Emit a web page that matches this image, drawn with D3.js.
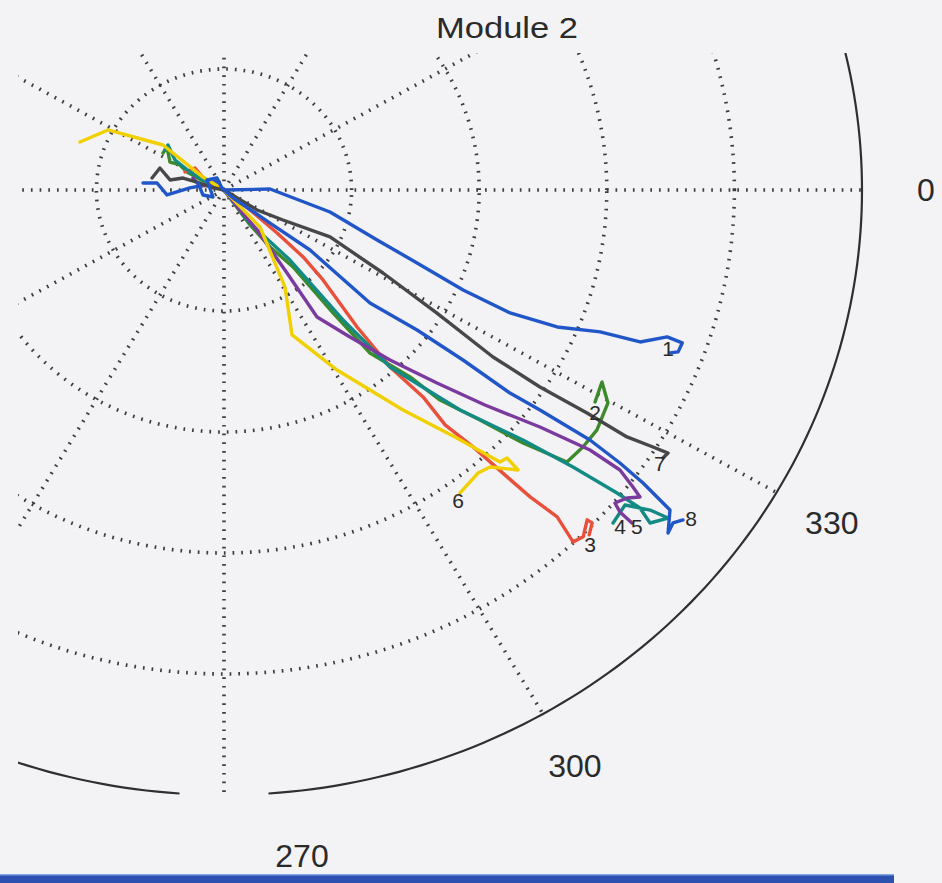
<!DOCTYPE html>
<html><head><meta charset="utf-8">
<script src="https://cdn.jsdelivr.net/npm/d3@7/dist/d3.min.js"></script>
<style>
html,body{margin:0;padding:0;background:#f3f3f5;}
svg{display:block;}
text{font-family:"Liberation Sans",Arial,Helvetica,sans-serif;fill:#2a2a2a;}
</style></head>
<body>
<svg id="chart" width="942" height="883"></svg>
<script>
// ---------------- data (east / north components, same units as the polar radius) -------------
const title = "Module 2";
const seriesNames = ["1","2","3","4","5","6","7","8"];
const seriesColors = ["#2156c8","#3d8a2c","#e9503c","#148a84","#7b3a9e","#f1d000","#474747","#2156c8"];
const angleTickValues = [0, -30, -60, -90];
const angleTickLabels = ["0", "330", "300", "270"];
const radialGridValues = [1, 2, 3, 4];
const spokeAngles = [0, 30, 60, 90, 120, 150, 180, 210, 240, 270, 300, 330];
const rMax = 5;

const s1 = [[-0.635,0.058],[-0.525,0.058],[-0.447,-0.041],[-0.267,0.017],[-0.149,0.041],[-0.071,0.074],[0,0],
  [0.361,0.008],[0.831,-0.182],[1.200,-0.413],[1.513,-0.603],[1.874,-0.826],[2.242,-1.016],[2.611,-1.132],
  [2.948,-1.173],[3.261,-1.256],[3.473,-1.214],[3.591,-1.264],[3.559,-1.338],[3.497,-1.346]];
const s2 = [[-0.478,0.306],[-0.447,0.355],[-0.423,0.231],[-0.345,0.207],[-0.290,0.149],[-0.149,0.066],[0,0],
  [0.204,-0.289],[0.361,-0.471],[0.541,-0.636],[0.854,-1.016],[1.144,-1.347],[1.458,-1.545],[1.693,-1.736],
  [2.006,-1.901],[2.343,-2.091],[2.688,-2.248],[2.813,-2.124],[2.923,-1.983],[3.009,-1.760],[2.962,-1.587],[2.908,-1.752]];
const s3 = [[-0.306,0.149],[-0.227,0.182],[-0.149,0.083],[0,0],[0.204,-0.165],[0.416,-0.355],[0.620,-0.553],
  [0.776,-0.743],[1.043,-1.132],[1.301,-1.462],[1.560,-1.710],[1.733,-1.941],[1.952,-2.123],[2.219,-2.371],
  [2.399,-2.536],[2.611,-2.701],[2.736,-2.908],[2.815,-2.866],[2.846,-2.726],[2.885,-2.751],[2.862,-2.850]];
const s4 = [[-0.462,0.331],[-0.439,0.372],[-0.384,0.248],[-0.266,0.149],[-0.125,0.058],[0,0],[0.204,-0.273],
  [0.517,-0.579],[0.933,-1.074],[1.301,-1.463],[1.850,-1.818],[2.343,-2.066],[2.735,-2.289],[3.080,-2.504],
  [3.260,-2.628],[3.339,-2.752],[3.480,-2.711],[3.339,-2.645],[3.143,-2.603],[3.049,-2.752]];
const s5 = [[-0.243,0.099],[-0.188,0.033],[-0.110,0.041],[0,0],[0.125,-0.165],[0.259,-0.331],[0.494,-0.686],
  [0.729,-1.050],[0.987,-1.215],[1.301,-1.405],[1.669,-1.595],[2.045,-1.777],[2.476,-1.959],[2.868,-2.149],
  [3.103,-2.314],[3.205,-2.455],[3.260,-2.537],[3.158,-2.545],[3.064,-2.587],[3.103,-2.661],[3.197,-2.752]];
const s6 = [[-1.129,0.397],[-0.909,0.496],[-0.478,0.372],[-0.165,0.107],[0,0],[0.282,-0.306],[0.478,-0.802],
  [0.533,-1.198],[0.886,-1.488],[1.403,-1.818],[1.810,-2.041],[2.163,-2.248],[2.218,-2.215],[2.304,-2.314],
  [2.085,-2.289],[1.991,-2.339],[1.850,-2.504]];
const s7 = [[-0.564,0.099],[-0.502,0.182],[-0.423,0.083],[-0.321,0.099],[-0.212,0.066],[-0.110,0.025],[0,0],
  [0.259,-0.165],[0.462,-0.248],[0.831,-0.388],[1.246,-0.686],[1.669,-1.017],[2.108,-1.380],[2.476,-1.628],
  [2.845,-1.843],[3.158,-2.041],[3.362,-2.124],[3.480,-2.174],[3.440,-2.215]];
const s8 = [[-0.204,0.058],[-0.165,-0.041],[-0.086,-0.058],[-0.133,0.083],[-0.055,0.099],[-0.016,0.017],
  [0.071,-0.066],[0.361,-0.273],[0.674,-0.496],[1.144,-0.934],[1.513,-1.157],[1.873,-1.405],[2.241,-1.678],
  [2.476,-1.818],[2.868,-2.066],[3.103,-2.256],[3.284,-2.421],[3.417,-2.562],[3.495,-2.645],[3.480,-2.835],
  [3.519,-2.752],[3.597,-2.727]];
const seriesData = [s1, s2, s3, s4, s5, s6, s7, s8];

// ---------------- layout / style ----------------
const W = 942, H = 883;
const cx = 224, cy = 190;
const labelOffsets = [[-2,-4],[0,11],[1,10],[7,4],[5,4],[-2,8],[-3,5],[8,-1]];

const svg = d3.select("#chart");
const xR = d3.scaleLinear().domain([0, rMax]).range([0, 638]);
const yR = d3.scaleLinear().domain([0, rMax]).range([0, 605]);
const X = u => cx + xR(u);
const Y = v => cy - yR(v);
const rad = d => d * Math.PI / 180;
const polar = (deg, r) => [X(r * Math.cos(rad(deg))), Y(r * Math.sin(rad(deg)))];

svg.append("rect").attr("width", W).attr("height", H).attr("fill", "#f3f3f5");

svg.append("clipPath").attr("id", "plotclip")
  .append("rect").attr("x", 18).attr("y", 53).attr("width", W - 18).attr("height", H - 53);

const g = svg.append("g").attr("clip-path", "url(#plotclip)");
const line = d3.line().x(d => d[0]).y(d => d[1]);

const dotted = {stroke: "#3c3c3c", "stroke-width": 3.6, "stroke-dasharray": "1.7,7", fill: "none"};
function applyStyle(sel, st) { Object.entries(st).forEach(([k, v]) => sel.attr(k, v)); return sel; }

// dotted circles
radialGridValues.forEach(r => {
  const pts = d3.range(0, 361, 1).map(a => polar(a, r));
  applyStyle(g.append("path").attr("d", line(pts)), dotted);
});
// dotted spokes
spokeAngles.forEach(a => {
  applyStyle(g.append("path").attr("d", line([polar(a, 0), polar(a, rMax)])), dotted);
});
// outer solid circle (drawn in two pieces as in the source)
[[-86, 30], [-94, -200]].forEach(([a0, a1]) => {
  const step = a1 > a0 ? 1 : -1;
  const pts = d3.range(a0, a1 + step, step).map(a => polar(a, rMax));
  g.append("path").attr("d", line(pts)).attr("fill", "none")
    .attr("stroke", "#2f2f2f").attr("stroke-width", 2.2);
});

// series lines
seriesData.forEach((s, i) => {
  g.append("path")
    .attr("d", line(s.map(p => [X(p[0]), Y(p[1])])))
    .attr("fill", "none").attr("stroke", seriesColors[i])
    .attr("stroke-width", 3.4).attr("stroke-linejoin", "round").attr("stroke-linecap", "round");
});
// series end labels
seriesData.forEach((s, i) => {
  const p = s[s.length - 1];
  svg.append("text")
    .attr("x", X(p[0]) + labelOffsets[i][0]).attr("y", Y(p[1]) + labelOffsets[i][1])
    .attr("text-anchor", "middle").attr("dominant-baseline", "central")
    .attr("font-size", 21).text(seriesNames[i]);
});

// angle labels
const labelR = rMax * 1.1;
const angleLabelShift = {"270": 78};
angleTickValues.forEach((a, i) => {
  const [x, y] = polar(a, labelR);
  svg.append("text")
    .attr("x", x + (angleLabelShift[angleTickLabels[i]] || 0)).attr("y", y)
    .attr("text-anchor", "middle").attr("dominant-baseline", "central")
    .attr("font-size", 32).text(angleTickLabels[i]);
});

// title
svg.append("text").attr("x", 507).attr("y", 38).attr("text-anchor", "middle")
  .attr("font-size", 30).attr("textLength", 142).attr("lengthAdjust", "spacingAndGlyphs").text(title);

// bottom band
svg.append("rect").attr("x", 0).attr("y", 875).attr("width", 894).attr("height", 8).attr("fill", "#2b50b0");
svg.append("rect").attr("x", 0).attr("y", 874).attr("width", 894).attr("height", 1.5).attr("fill", "#7fa6e6");
</script>
</body></html>
